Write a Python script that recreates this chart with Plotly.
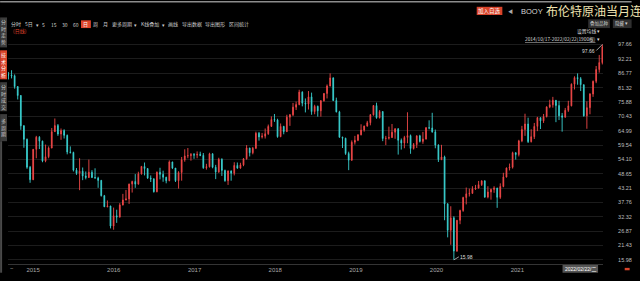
import plotly.graph_objects as go
import pandas as pd

# ---------------- data (biweekly candles, Brent front-month) ----------------
bar_dates = pd.date_range(end="2022-02-22", periods=193, freq="14D")

opens = [86.2, 86.1, 85.8, 81.7, 78.3, 66.8, 61.7, 51.1, 46.4, 57.9,
         62.5, 61.0, 53.5, 55.1, 58.4, 64.6, 66.9, 63.7, 65.0, 63.2,
         56.9, 56.7, 50.0, 48.8, 49.6, 47.8, 47.2, 49.2, 47.2, 47.0,
         46.1, 40.3, 36.1, 36.4, 28.8, 32.7, 32.2, 36.8, 38.7, 39.1,
         44.7, 45.7, 44.7, 48.6, 51.4, 50.6, 47.0, 46.7, 41.8, 49.2,
         48.4, 47.3, 46.0, 53.1, 50.8, 46.0, 49.1, 53.9, 55.4, 55.5,
         55.9, 55.7, 56.0, 55.6, 50.9, 51.3, 56.2, 51.1, 49.3, 54.1,
         49.9, 46.0, 49.7, 48.8, 51.8, 50.8, 52.0, 54.3, 58.4, 56.6,
         58.3, 64.0, 62.6, 62.9, 63.8, 66.6, 69.2, 69.0, 62.7, 66.6,
         64.6, 70.1, 71.0, 73.9, 74.9, 79.6, 75.4, 75.1, 77.8, 72.2,
         74.2, 72.5, 76.3, 79.1, 81.9, 85.0, 76.4, 72.1, 62.5, 62.1,
         56.3, 53.8, 60.6, 61.3, 63.4, 65.2, 66.7, 68.0, 71.0, 74.5,
         69.9, 72.2, 62.0, 62.1, 62.4, 64.4, 65.7, 61.3, 60.3, 62.4,
         63.1, 58.2, 59.7, 63.0, 60.9, 61.8, 66.1, 66.0, 64.5, 59.5,
         54.0, 55.0, 37.2, 27.2, 31.9, 19.3, 31.0, 34.7, 39.6, 41.0,
         41.2, 42.9, 43.2, 44.5, 45.9, 39.8, 41.7, 42.7, 43.2, 39.7,
         43.8, 47.4, 50.8, 51.1, 56.6, 55.9, 61.1, 65.4, 67.5, 60.8,
         62.7, 66.6, 69.9, 68.7, 70.3, 74.0, 74.8, 76.5, 74.5, 70.6,
         70.1, 72.7, 74.4, 82.6, 85.1, 84.7, 82.4, 70.6, 73.7, 78.9,
         83.7, 88.2, 90.8]

highs = [87.2, 87.9, 86.3, 81.9, 78.5, 67.1, 62.0, 51.6, 58.0, 63.0,
         62.9, 61.2, 59.7, 59.0, 66.0, 69.6, 67.5, 65.8, 65.5, 63.5,
         59.0, 57.0, 50.8, 54.5, 51.0, 49.5, 54.0, 50.0, 50.7, 47.5,
         46.3, 40.6, 38.5, 36.5, 35.8, 35.0, 37.5, 41.0, 42.5, 44.9,
         46.0, 48.5, 49.4, 51.6, 52.9, 50.8, 48.0, 46.9, 49.5, 50.9,
         49.8, 47.5, 53.7, 53.2, 50.8, 49.6, 55.0, 57.9, 58.4, 56.5,
         56.5, 57.1, 57.0, 56.5, 52.4, 56.6, 56.4, 52.0, 54.7, 54.5,
         50.2, 49.9, 49.9, 53.0, 52.9, 52.8, 54.6, 59.5, 58.5, 58.8,
         64.6, 64.5, 64.1, 65.8, 67.3, 70.4, 71.3, 69.5, 67.7, 66.8,
         71.0, 71.3, 75.5, 76.0, 80.5, 79.9, 77.2, 80.0, 79.4, 74.8,
         74.5, 76.6, 79.2, 82.5, 86.7, 85.2, 77.5, 72.5, 62.7, 62.3,
         57.0, 61.3, 63.0, 63.6, 67.4, 66.9, 68.7, 71.3, 74.7, 75.6,
         72.8, 72.4, 63.0, 66.5, 67.5, 65.9, 65.9, 62.0, 63.0, 71.95,
         63.5, 60.3, 63.2, 63.4, 64.5, 66.3, 68.9, 71.75, 65.4, 59.8,
         59.6, 55.5, 37.5, 36.3, 32.5, 31.0, 35.0, 39.9, 43.4, 43.0,
         43.9, 44.4, 45.9, 46.2, 46.2, 43.9, 43.0, 43.9, 43.3, 45.0,
         49.0, 51.0, 52.5, 57.0, 56.8, 61.5, 66.8, 71.4, 69.9, 65.5,
         67.9, 70.2, 70.0, 71.3, 74.2, 76.7, 77.8, 76.5, 76.3, 71.7,
         73.6, 76.3, 82.9, 85.6, 86.7, 85.3, 82.5, 76.1, 79.2, 84.0,
         89.5, 93.7, 97.66]

lows = [84.4, 84.8, 80.9, 76.8, 65.3, 58.5, 50.5, 45.2, 46.2, 54.5,
        58.0, 53.0, 53.0, 54.5, 58.3, 64.5, 63.0, 61.5, 62.0, 56.0,
        56.3, 49.5, 48.2, 42.4, 46.2, 46.5, 47.0, 47.0, 46.8, 43.3,
        40.0, 36.0, 35.9, 27.9, 27.4, 30.0, 32.0, 36.6, 38.5, 37.2,
        41.5, 43.3, 44.5, 48.3, 48.0, 46.7, 45.5, 41.5, 41.6, 46.5,
        45.6, 45.0, 45.8, 50.4, 45.5, 43.0, 46.0, 53.2, 54.5, 53.6,
        54.3, 54.5, 55.3, 50.5, 50.2, 51.0, 50.7, 46.6, 49.0, 47.8,
        45.6, 44.4, 46.0, 48.0, 50.5, 50.5, 51.5, 54.0, 55.2, 56.0,
        58.0, 61.2, 62.0, 62.0, 63.4, 66.4, 68.3, 62.3, 62.5, 63.6,
        64.5, 66.8, 70.5, 72.8, 74.6, 74.2, 71.9, 73.0, 71.0, 71.2,
        70.3, 70.3, 76.0, 77.2, 81.8, 76.2, 71.9, 62.3, 58.4, 55.8,
        50.0, 53.5, 59.7, 61.0, 63.2, 64.6, 66.5, 67.0, 70.7, 69.5,
        69.6, 61.0, 59.5, 61.6, 62.2, 61.9, 55.9, 57.8, 58.3, 60.2,
        56.2, 57.8, 58.4, 60.5, 60.0, 61.6, 65.5, 64.2, 58.3, 53.1,
        53.8, 31.0, 24.5, 21.7, 15.98, 19.0, 29.5, 34.2, 37.0, 40.0,
        41.0, 42.5, 43.0, 44.0, 39.5, 39.3, 38.8, 41.4, 35.7, 39.1,
        43.5, 47.2, 49.9, 50.6, 54.0, 55.2, 60.6, 63.0, 60.3, 60.5,
        61.8, 64.8, 65.6, 67.9, 70.0, 73.5, 73.7, 68.2, 69.0, 64.6,
        69.9, 72.1, 74.2, 80.6, 82.4, 80.0, 70.3, 65.7, 71.2, 77.8,
        83.0, 87.0, 90.1]

closes = [86.1, 85.8, 81.7, 78.3, 66.8, 61.7, 51.1, 46.4, 57.9, 62.5,
          61.0, 53.5, 55.1, 58.4, 64.6, 66.9, 63.7, 65.0, 63.2, 56.9,
          56.7, 50.0, 48.8, 49.6, 47.8, 47.2, 49.2, 47.2, 47.0, 46.1,
          40.3, 36.1, 36.4, 28.8, 32.7, 32.2, 36.8, 38.7, 39.1, 44.7,
          45.7, 44.7, 48.6, 51.4, 50.6, 47.0, 46.7, 41.8, 49.2, 48.4,
          47.3, 46.0, 53.1, 50.8, 46.0, 49.1, 53.9, 55.4, 55.5, 55.9,
          55.7, 56.0, 55.6, 50.9, 51.3, 56.2, 51.1, 49.3, 54.1, 49.9,
          46.0, 49.7, 48.8, 51.8, 50.8, 52.0, 54.3, 58.4, 56.6, 58.3,
          64.0, 62.6, 62.9, 63.8, 66.6, 69.2, 69.0, 62.7, 66.6, 64.6,
          70.1, 71.0, 73.9, 74.9, 79.6, 75.4, 75.1, 77.8, 72.2, 74.2,
          72.5, 76.3, 79.1, 81.9, 85.0, 76.4, 72.1, 62.5, 62.1, 56.3,
          53.8, 60.6, 61.3, 63.4, 65.2, 66.7, 68.0, 71.0, 74.5, 69.9,
          72.2, 62.0, 62.1, 62.4, 64.4, 65.7, 61.3, 60.3, 62.4, 63.1,
          58.2, 59.7, 63.0, 60.9, 61.8, 66.1, 66.0, 64.5, 59.5, 54.0,
          55.0, 37.2, 27.2, 31.9, 19.3, 31.0, 34.7, 39.6, 41.0, 41.2,
          42.9, 43.2, 44.5, 45.9, 39.8, 41.7, 42.7, 43.2, 39.7, 43.8,
          47.4, 50.8, 51.1, 56.6, 55.9, 61.1, 65.4, 67.5, 60.8, 62.7,
          66.6, 69.9, 68.7, 70.3, 74.0, 74.8, 76.5, 74.5, 70.6, 70.1,
          72.7, 74.4, 82.6, 85.1, 84.7, 82.4, 70.6, 73.7, 78.9, 83.7,
          88.2, 90.8, 96.8]

year_ticks = ["2015-01-01", "2016-01-01", "2017-01-01", "2018-01-01",
              "2019-01-01", "2020-01-01", "2021-01-01"]
year_labels = ["2015", "2016", "2017", "2018", "2019", "2020", "2021"]

price_labels = ["97.66", "92.21", "86.77", "81.32", "75.88", "70.43", "64.99",
                "59.54", "54.10", "48.65", "43.21", "37.76", "32.32", "26.87",
                "21.43", "15.98"]

max_price = 97.66
min_price = 15.98
min_date = "2020-04-21"

toolbar_labels = ["分时", "5日", "▾", "5", "15", "30", "60", "日", "周", "月",
                  "更多周期", "▾", "K线叠加", "▾", "画线", "导出数据", "导出图形", "区间统计"]

# ---------------- layout helpers ----------------
W, H = 640, 281
ML, MR, MT, MB = 8, 29, 30, 9
PW = W - ML - MR
PH = H - MT - MB


def px(x):
    return (x - ML) / PW


def py(y):
    return (H - MB - y) / PH


shapes = []
annotations = []


def rect(x0, y0, x1, y1, color):
    shapes.append(dict(type="rect", xref="paper", yref="paper",
                       x0=px(x0), x1=px(x1), y0=py(y1), y1=py(y0),
                       fillcolor=color, line=dict(width=0), layer="above"))


def label(x, y, s, size, color, xanchor="center",
          family="Noto Sans CJK SC, Liberation Sans, sans-serif"):
    annotations.append(dict(xref="paper", yref="paper", x=px(x), y=py(y),
                            text=s, showarrow=False, xanchor=xanchor,
                            yanchor="middle", borderpad=0,
                            font=dict(size=size, color=color, family=family)))


fig = go.Figure()
fig.add_trace(go.Candlestick(
    x=bar_dates, open=opens, high=highs, low=lows, close=closes,
    increasing=dict(line=dict(color="#f04848", width=0.9), fillcolor="#f04848"),
    decreasing=dict(line=dict(color="#3ad0d0", width=0.9), fillcolor="#3ad0d0"),
    whiskerwidth=0, hoverinfo="skip", showlegend=False))

# top border
rect(0, 0, 640, 1.5, "#8c8c8c")

# title row
rect(483, 6, 509, 14.5, "#d8432a")
label(496, 10.2, "加入自选", 5.5, "#ffffff")
label(517, 10.2, "◀", 5, "#aaaaaa")
label(526.5, 10.4, "BOOY", 7.5, "#d6d6d6", xanchor="left",
      family="Liberation Sans, Arial, sans-serif")
label(552, 9.8, "布伦特原油当月连续", 12, "#efe3b0", xanchor="left")

# toolbar
tb_x = [16.5, 29.5, 38, 44, 54.5, 65.5, 76.5, 87, 97, 107,
        124, 137, 152, 166, 175.5, 194.5, 218, 242]
rect(82, 20, 92, 28, "#e0452c")
for s, x in zip(toolbar_labels, tb_x):
    label(x, 24, s, 5, "#ffffff" if s == "日" else "#cfcfcf")
label(12, 31, "(日线)", 5, "#e0452c", xanchor="left")

# left tab strip
rect(0, 17, 7, 48, "#3c3c3c")
rect(0, 51, 7, 81, "#d8432a")
rect(0, 84, 7, 114, "#3c3c3c")
rect(0, 117, 7, 145, "#3c3c3c")
rect(0, 145, 2, 281, "#4a4a4a")
label(3.6, 32.5, "分<br>时<br>走<br>势", 5, "#c8c8c8")
label(3.6, 66, "技<br>术<br>分<br>析", 5, "#ffffff")
label(3.6, 99, "分<br>时<br>成<br>交", 5, "#c8c8c8")
label(3.6, 131, "多<br>周<br>期", 5, "#c8c8c8")

# top-right controls
rect(596, 19, 618, 28, "#303030")
label(607, 23.5, "叠加品种", 4.5, "#cfcfcf")
rect(621, 19, 640, 28, "#303030")
label(630, 23.5, "隐藏 ▾", 4.5, "#cfcfcf")
label(609, 31.5, "设置均线 ▾", 4.8, "#dddddd", xanchor="right")
label(609, 39, "<u>2014/10/17-2022/02/22(1900根)</u> ▾", 4.8, "#dddddd",
      xanchor="right")

# bottom controls
label(12, 277, "−", 6, "#aaaaaa")
rect(570, 273, 606, 281, "#555555")
label(588, 277, "2022/02/22/二", 5, "#ffffff",
      family="Liberation Sans, Noto Sans CJK SC, sans-serif")
rect(633, 276, 638, 278.5, "#d8432a")

# max / min markers
annotations.append(dict(xref="x", yref="y", x=bar_dates[-1], y=max_price,
                        text=f"{max_price:.2f}", showarrow=True, arrowhead=0,
                        arrowwidth=0.7, arrowcolor="#dddddd", ax=-6, ay=6,
                        xanchor="right", yanchor="middle", borderpad=0,
                        font=dict(size=5, color="#dddddd",
                                  family="Liberation Sans, Arial")))
annotations.append(dict(xref="x", yref="y", x=min_date, y=min_price,
                        text=f"{min_price:.2f}", showarrow=True, arrowhead=0,
                        arrowwidth=0.7, arrowcolor="#dddddd", ax=5, ay=-3,
                        xanchor="left", yanchor="middle", borderpad=0,
                        font=dict(size=5, color="#dddddd",
                                  family="Liberation Sans, Arial")))

fig.update_layout(
    width=W, height=H,
    margin=dict(l=ML, r=MR, t=MT, b=MB, pad=0),
    paper_bgcolor="#000000", plot_bgcolor="#000000",
    boxgap=0.65,
    shapes=shapes, annotations=annotations,
    xaxis=dict(type="date", range=["2014-10-12", "2022-02-25"],
               rangeslider=dict(visible=False), showgrid=False, zeroline=False,
               tickvals=year_ticks, ticktext=year_labels,
               ticklabelposition="outside right",
               tickfont=dict(size=6, color="#a8a8a8",
                             family="Liberation Sans, Arial"),
               showline=True, linecolor="#343434", linewidth=1, ticks=""),
    yaxis=dict(side="right", range=[14.40, 103.16], zeroline=False,
               tickvals=[float(s) for s in price_labels], ticktext=price_labels,
               showgrid=True, gridcolor="#1c1c1c", gridwidth=1,
               ticks="outside", ticklen=13, tickcolor="rgba(0,0,0,0)",
               tickfont=dict(size=5.5, color="#bdbdbd",
                             family="Liberation Sans, Arial"),
               showline=False),
)

fig.write_html("out.html", config={"displayModeBar": False})
